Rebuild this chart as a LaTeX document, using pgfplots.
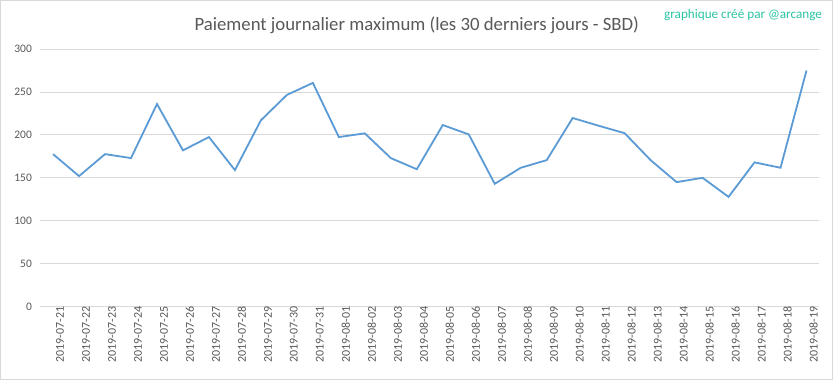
\documentclass[border=0pt]{standalone}
\usepackage{pgfplots}
\pgfplotsset{compat=1.18}
\usepackage{fontspec}
\setmainfont{Carlito}
\definecolor{linec}{HTML}{5B9BD5}
\definecolor{gridc}{HTML}{D9D9D9}
\definecolor{txt}{HTML}{595959}
\definecolor{credit}{HTML}{2CC4A4}
\begin{document}
\begin{tikzpicture}[x=1bp,y=1bp]
\draw[gridc, line width=1bp, fill=white] (0.5,0.5) rectangle (831,378.5);
\node[text=txt, font=\fontsize{18.8}{22}\selectfont] at (416,354) {Paiement journalier maximum (les 30 derniers jours - SBD)};
\node[text=credit, font=\fontsize{13.2}{15}\selectfont, anchor=east] at (824,364) {graphique créé par @arcange};
\begin{axis}[
  at={(40bp,73bp)}, anchor=south west, scale only axis,
  width=778bp, height=257bp,
  xmin=-0.5, xmax=29.5, ymin=0, ymax=300,
  ytick={0,50,...,300},
  xtick={0,...,29},
  xticklabels={2019-07-21,2019-07-22,2019-07-23,2019-07-24,2019-07-25,2019-07-26,2019-07-27,2019-07-28,2019-07-29,2019-07-30,2019-07-31,2019-08-01,2019-08-02,2019-08-03,2019-08-04,2019-08-05,2019-08-06,2019-08-07,2019-08-08,2019-08-09,2019-08-10,2019-08-11,2019-08-12,2019-08-13,2019-08-14,2019-08-15,2019-08-16,2019-08-17,2019-08-18,2019-08-19},
  x tick label style={rotate=90, anchor=east, font=\fontsize{12}{13}\selectfont, text=txt, inner sep=0pt, yshift=-7bp},
  y tick label style={font=\fontsize{11.5}{12}\selectfont, text=txt, inner sep=0pt, xshift=-8bp},
  /pgf/number format/assume math mode=true,
  ymajorgrids, grid style={gridc, line width=0.9bp},
  axis line style={draw=none},
  major tick length=0pt,
  clip=false,
]
\addplot[linec, line width=1.8bp, mark=none] coordinates {
(0,177.6) (1,152) (2,177.6) (3,173) (4,236) (5,182) (6,197.5) (7,159) (8,217) (9,246.6)
(10,260.6) (11,197.5) (12,201.8) (13,173) (14,160) (15,211.5) (16,200.6) (17,143) (18,161.7) (19,170.6)
(20,219.7) (21,210.7) (22,202) (23,170.6) (24,145) (25,150) (26,127.8) (27,168) (28,161.7) (29,275)
};
\end{axis}
\end{tikzpicture}
\end{document}
